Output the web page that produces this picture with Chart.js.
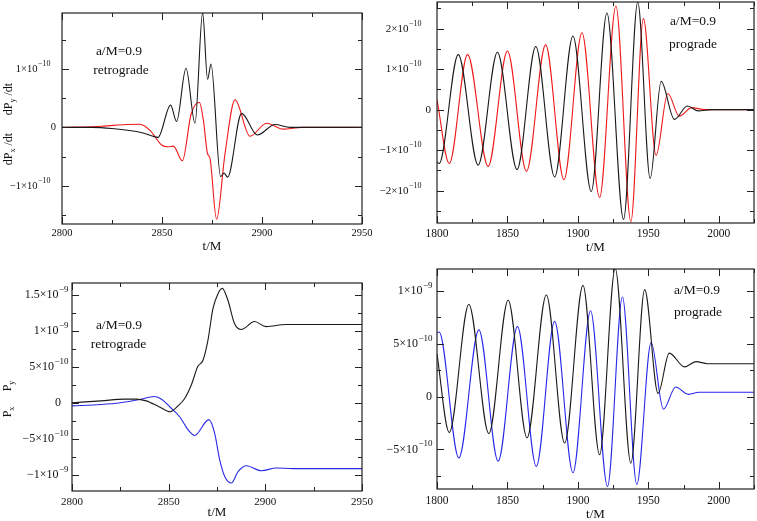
<!DOCTYPE html>
<html>
<head>
<meta charset="utf-8">
<script src="https://cdn.jsdelivr.net/npm/chart.js@4.4.1/dist/chart.umd.min.js"></script>
<style>
  html, body { margin: 0; padding: 0; background: #fff; }
  #wrap { position: relative; width: 757px; height: 521px; }
  canvas { position: absolute; }
</style>
</head>
<body>
<div id="wrap">
  <canvas id="c1" width="378" height="260" style="left:0;top:0"></canvas>
  <canvas id="c2" width="379" height="260" style="left:378px;top:0"></canvas>
  <canvas id="c3" width="378" height="261" style="left:0;top:260px"></canvas>
  <canvas id="c4" width="379" height="261" style="left:378px;top:260px"></canvas>
</div>
<script>
// values; y in units of 1e-10 (top row) and 1e-9 (bottom row)

// top-left: dP/dt, retrograde
const p1BlackT = [2800, 2815, 2825, 2840, 2848, 2854.3, 2857.3, 2862, 2866.5, 2870.3, 2872.8, 2874.5, 2879.3, 2881, 2882.8, 2889.8, 2897.7, 2906.5, 2914, 2950];
const p1BlackV = [0, 0, -0.02, -0.09, -0.17, 0.38, 0.10, 1.01, 0.07, 1.96, 0.82, 1.08, -0.84, -0.78, -0.85, 0.24, -0.13, 0.05, 0, 0];
const p1RedT = [2800, 2820, 2832, 2839, 2844, 2849.8, 2853, 2855.7, 2860.2, 2864.5, 2868.7, 2870.7, 2872.7, 2874, 2877.3, 2881.5, 2886.5, 2894, 2902.3, 2910.7, 2920, 2950];
const p1RedV = [0, 0.02, 0.05, 0.055, -0.05, -0.30, -0.33, -0.32, -0.57, 0.22, 0.43, 0.12, -0.44, -0.53, -1.57, -0.45, 0.47, -0.15, 0.07, -0.03, 0, 0];

// top-right: dP/dt, prograde
const p2BlackT = [1800, 1801.5, 1815.1, 1829.2, 1842.9, 1856.8, 1870.1, 1883.5, 1896.5, 1909.5, 1920.6, 1932.4, 1942.5, 1951.3, 1959.1, 1968.5, 1977.7, 1985.5, 1995, 2025];
const p2BlackV = [-1.29, -1.33, 1.36, -1.37, 1.42, -1.48, 1.56, -1.66, 1.82, -2.02, 2.39, -2.71, 2.66, -1.70, 0.70, -0.24, 0.09, -0.03, 0, 0];
const p2RedT = [1800, 1808.7, 1821.7, 1836.3, 1850, 1863.5, 1877.1, 1890.1, 1902.9, 1915.4, 1927, 1937.6, 1946.5, 1955.5, 1963.8, 1972, 1980.8, 1990, 2025];
const p2RedV = [0.25, -1.33, 1.36, -1.40, 1.45, -1.52, 1.60, -1.73, 1.90, -2.17, 2.56, -2.77, 2.25, -1.13, 0.40, -0.16, 0.05, 0, 0];

// bottom-left: P, retrograde
const p3BlackT = [2800, 2815, 2827, 2833, 2838.4, 2845, 2850.8, 2854.8, 2858.2, 2861.7, 2865.1, 2867.7, 2870.3, 2872.9, 2875.4, 2877.7, 2880.6, 2884.1, 2887.5, 2894.4, 2900.4, 2910.7, 2950];
const p3BlackV = [0.005, 0.03, 0.055, 0.055, 0.03, -0.05, -0.12, -0.04, 0.06, 0.25, 0.51, 0.59, 0.87, 1.31, 1.51, 1.59, 1.43, 1.10, 1.02, 1.13, 1.06, 1.09, 1.09];
const p3BlueT = [2800, 2815, 2825, 2835, 2842.7, 2846.5, 2850.5, 2855.7, 2860, 2863.4, 2870.8, 2873.8, 2876.4, 2879, 2882.4, 2885.9, 2890.2, 2897.9, 2905.7, 2914.3, 2950];
const p3BlueV = [-0.04, -0.02, 0.005, 0.05, 0.09, 0.05, -0.05, -0.19, -0.37, -0.45, -0.23, -0.42, -0.79, -1.02, -1.11, -0.95, -0.87, -0.94, -0.90, -0.91, -0.91];

// bottom-right: P, prograde
const p4BlackT = [1800, 1808.7, 1822.6, 1836.8, 1850.5, 1863.9, 1877.6, 1890.6, 1903.6, 1915.4, 1926.5, 1937.6, 1947.4, 1956.9, 1964.9, 1975.7, 1983.8, 1992, 2025];
const p4BlackV = [0.40, -0.34, 0.87, -0.35, 0.91, -0.39, 0.96, -0.44, 1.05, -0.55, 1.21, -0.63, 1.01, 0.03, 0.41, 0.28, 0.33, 0.31, 0.31];
const p4BlueT = [1800, 1801.5, 1815.5, 1829.7, 1843.4, 1857.1, 1870.5, 1883.5, 1896.5, 1909, 1921, 1931.6, 1941.8, 1952, 1960.7, 1969.4, 1978.4, 1986, 2025];
const p4BlueV = [0.60, 0.61, -0.58, 0.63, -0.61, 0.66, -0.66, 0.71, -0.72, 0.81, -0.85, 0.94, -0.83, 0.51, -0.12, 0.09, 0.02, 0.04, 0.04];

// tick label values (axis units)
const p1YLabels = [-1, 0, 1];
const p2YLabels = [-2, -1, 0, 1, 2];
const p3YLabels = [-1, -0.5, 0, 0.5, 1, 1.5];
const p4YLabels = [-0.5, 0, 0.5, 1];

const SERIF = "'Liberation Serif', 'Times New Roman', serif";
const BLACK = '#1a1a1a';
const RED = '#f01818';
const BLUE = '#2828e8';

Chart.defaults.font.family = SERIF;
Chart.defaults.color = '#111';

const zip = (t, v) => t.map((x, i) => ({ x: x, y: v[i] }));

function sciParts(val) {
  const [m, e] = val.toExponential(2).split('e');
  const mant = parseFloat(m), ex = Number(e);
  return {
    main: (mant < 0 ? '\u2212' : '') + Math.abs(mant) + '\u00d710',
    sup: (ex < 0 ? '\u2212' : '') + Math.abs(ex)
  };
}

// box, inward ticks on all sides, y labels with exponents, side labels, notes
const framePlugin = {
  id: 'frame',
  afterDatasetsDraw(chart, args, o) {
    const { ctx, chartArea: a, scales: { x, y } } = chart;
    ctx.save();
    ctx.strokeStyle = '#222';
    ctx.lineWidth = 1.2;
    ctx.strokeRect(a.left, a.top, a.right - a.left, a.bottom - a.top);

    ctx.lineWidth = 1;
    ctx.beginPath();
    const xTicks = (step, len) => {
      for (let i = Math.ceil(x.min / step - 1e-9); i * step <= x.max + 1e-9; i++) {
        const px = Math.round(x.getPixelForValue(i * step)) + 0.5;
        ctx.moveTo(px, a.bottom); ctx.lineTo(px, a.bottom - len);
        ctx.moveTo(px, a.top); ctx.lineTo(px, a.top + len);
      }
    };
    const yTicks = (step, len) => {
      for (let i = Math.ceil(y.min / step - 1e-9); i * step <= y.max + 1e-9; i++) {
        const py = Math.round(y.getPixelForValue(i * step)) + 0.5;
        ctx.moveTo(a.left, py); ctx.lineTo(a.left + len, py);
        ctx.moveTo(a.right, py); ctx.lineTo(a.right - len, py);
      }
    };
    xTicks(o.xMajor, 7); xTicks(o.xMinor, 4);
    yTicks(o.yMajor, 7); yTicks(o.yMinor, 4);
    ctx.stroke();

    // y tick labels
    ctx.fillStyle = '#111';
    ctx.textBaseline = 'middle';
    ctx.textAlign = 'left';
    const mainFont = o.yFont + 'px ' + SERIF;
    const supFont = Math.round(o.yFont * 0.74) + 'px ' + SERIF;
    o.yLabels.forEach(v => {
      const py = y.getPixelForValue(v);
      if (v === 0) {
        ctx.font = mainFont;
        const w = ctx.measureText('0').width;
        ctx.fillText('0', a.left - o.zeroGap - w, py);
        return;
      }
      const p = sciParts(v * o.unit);
      ctx.font = supFont;
      const ws = ctx.measureText(p.sup).width;
      ctx.font = mainFont;
      const wm = ctx.measureText(p.main).width;
      const x0 = a.left - o.expGap - ws - wm;
      ctx.fillText(p.main, x0, py);
      ctx.font = supFont;
      ctx.fillText(p.sup, x0 + wm + 0.5, py - o.yFont * 0.45);
    });

    // rotated side labels with subscripts
    o.side.forEach(s => {
      ctx.save();
      ctx.translate(s.x, s.y);
      ctx.rotate(-Math.PI / 2);
      ctx.textBaseline = 'middle';
      ctx.textAlign = 'left';
      const big = s.size + 'px ' + SERIF, small = Math.round(s.size * 0.7) + 'px ' + SERIF;
      let total = 0;
      s.parts.forEach(([t, sub]) => { ctx.font = sub ? small : big; total += ctx.measureText(t).width; });
      let cx = -total / 2;
      s.parts.forEach(([t, sub]) => {
        ctx.font = sub ? small : big;
        ctx.fillText(t, cx, sub ? s.size * 0.35 : 0);
        cx += ctx.measureText(t).width;
      });
      ctx.restore();
    });

    // notes inside the plot
    ctx.textAlign = 'center';
    ctx.font = o.noteFont + 'px ' + SERIF;
    o.notes.forEach(n => ctx.fillText(n.text, n.x, n.y));
    ctx.restore();
  }
};

function makePanel(id, c) {
  new Chart(document.getElementById(id), {
    type: 'line',
    data: {
      datasets: c.series.map(s => ({
        data: s.data,
        borderColor: s.color,
        borderWidth: 1.1,
        pointRadius: 0,
        fill: false,
        cubicInterpolationMode: 'monotone'
      }))
    },
    options: {
      responsive: false,
      animation: false,
      events: [],
      layout: { padding: c.pad },
      plugins: {
        legend: { display: false },
        tooltip: { enabled: false },
        frame: c.frame
      },
      scales: {
        x: {
          type: 'linear',
          min: c.xMin, max: c.xMax,
          grid: { display: false, drawTicks: false },
          border: { display: false },
          ticks: {
            stepSize: 50, includeBounds: false, autoSkip: false, maxRotation: 0,
            padding: c.xTickPad, color: '#111',
            font: { size: c.xFont },
            callback: v => String(v)
          },
          title: {
            display: true, text: 't/M', color: '#111',
            font: { size: 13, lineHeight: 1 },
            padding: { top: 0, bottom: c.titlePad }
          },
          afterFit: s => { s.height = c.xHeight; }
        },
        y: {
          type: 'linear',
          min: c.yMin, max: c.yMax,
          grid: { display: false, drawTicks: false },
          border: { display: false },
          ticks: { display: false },
          afterFit: s => { s.width = c.yWidth; }
        }
      }
    },
    plugins: [framePlugin]
  });
}

makePanel('c1', {
  series: [
    { data: zip(p1BlackT, p1BlackV), color: BLACK },
    { data: zip(p1RedT, p1RedV), color: RED }
  ],
  pad: { top: 13, right: 16, left: 0, bottom: 0 },
  xMin: 2800, xMax: 2950, yMin: -1.65, yMax: 1.954,
  xHeight: 36, yWidth: 62, xTickPad: 3, xFont: 10.5, titlePad: 7,
  frame: {
    xMajor: 50, xMinor: 25, yMajor: 1, yMinor: 0.5,
    yLabels: p1YLabels, unit: 1e-10, yFont: 10.5, expGap: 12, zeroGap: 6,
    noteFont: 13.5,
    notes: [{ text: 'a/M=0.9', x: 119, y: 51.5 }, { text: 'retrograde', x: 121, y: 70.5 }],
    side: [
      { parts: [['dP', 0], ['y', 1], [' /dt', 0]], x: 9, y: 99, size: 12 },
      { parts: [['dP', 0], ['x', 1], [' /dt', 0]], x: 9, y: 149, size: 12 }
    ]
  }
});

makePanel('c2', {
  series: [
    { data: zip(p2BlackT, p2BlackV), color: BLACK },
    { data: zip(p2RedT, p2RedV), color: RED }
  ],
  pad: { top: 2, right: 3, left: 0, bottom: 0 },
  xMin: 1800, xMax: 2025, yMin: -2.8, yMax: 2.66,
  xHeight: 37, yWidth: 59, xTickPad: 4, xFont: 11.5, titlePad: 6,
  frame: {
    xMajor: 50, xMinor: 25, yMajor: 1, yMinor: 0.5,
    yLabels: p2YLabels, unit: 1e-10, yFont: 11, expGap: 16, zeroGap: 6,
    noteFont: 13.5,
    notes: [{ text: 'a/M=0.9', x: 315, y: 21 }, { text: 'prograde', x: 315, y: 44 }],
    side: []
  }
});

makePanel('c3', {
  series: [
    { data: zip(p3BlackT, p3BlackV), color: BLACK },
    { data: zip(p3BlueT, p3BlueV), color: BLUE }
  ],
  pad: { top: 23, right: 15, left: 0, bottom: 0 },
  xMin: 2800, xMax: 2950, yMin: -1.22, yMax: 1.665,
  xHeight: 30, yWidth: 72, xTickPad: 5, xFont: 11, titlePad: 2,
  frame: {
    xMajor: 50, xMinor: 25, yMajor: 0.5, yMinor: 0.25,
    yLabels: p3YLabels, unit: 1e-9, yFont: 12, expGap: 4, zeroGap: 11,
    noteFont: 13.5,
    notes: [{ text: 'a/M=0.9', x: 119, y: 65 }, { text: 'retrograde', x: 118.5, y: 84 }],
    side: [
      { parts: [['P', 0], ['y', 1]], x: 8, y: 126, size: 12 },
      { parts: [['P', 0], ['x', 1]], x: 8, y: 152, size: 12 }
    ]
  }
});

makePanel('c4', {
  series: [
    { data: zip(p4BlackT, p4BlackV), color: BLACK },
    { data: zip(p4BlueT, p4BlueV), color: BLUE }
  ],
  pad: { top: 9, right: 3, left: 0, bottom: 0 },
  xMin: 1800, xMax: 2025, yMin: -0.874, yMax: 1.205,
  xHeight: 32, yWidth: 59, xTickPad: 5, xFont: 11.5, titlePad: 0,
  frame: {
    xMajor: 50, xMinor: 25, yMajor: 0.5, yMinor: 0.25,
    yLabels: p4YLabels, unit: 1e-9, yFont: 12, expGap: 5, zeroGap: 5,
    noteFont: 13.5,
    notes: [{ text: 'a/M=0.9', x: 319, y: 30 }, { text: 'prograde', x: 320, y: 52 }],
    side: []
  }
});
</script>
</body>
</html>
